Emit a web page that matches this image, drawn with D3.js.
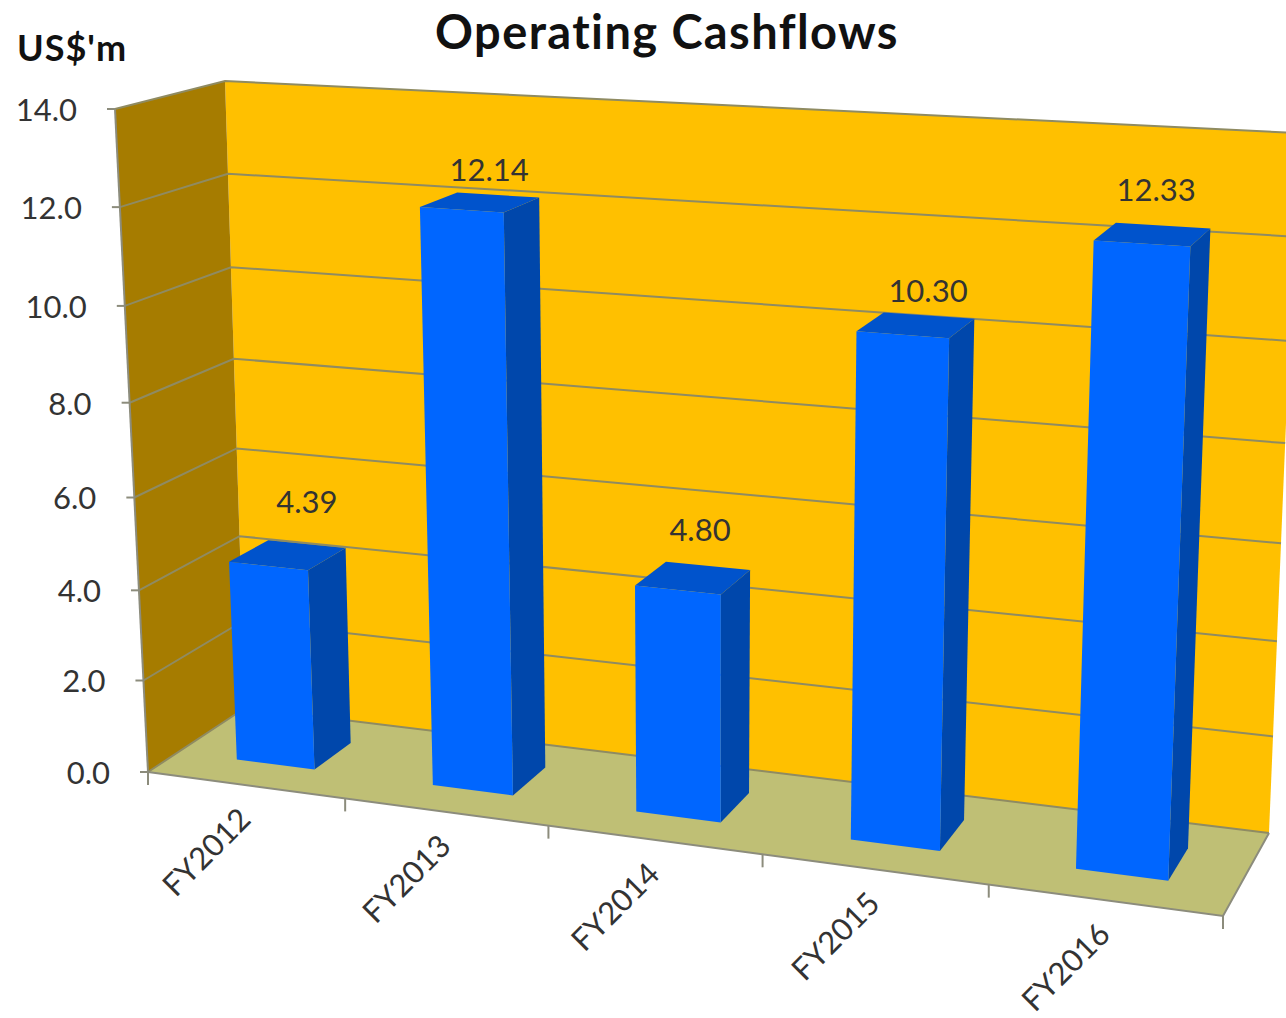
<!DOCTYPE html>
<html>
<head>
<meta charset="utf-8">
<title>Operating Cashflows</title>
<script src="https://cdn.jsdelivr.net/npm/d3@7/dist/d3.min.js"></script>
<style>
  html, body { margin: 0; padding: 0; background: #fff; overflow: hidden; }
  svg { display: block; }
  text { font-family: Lato, "Open Sans", sans-serif; fill: #333; font-variant-ligatures: none; }
</style>
</head>
<body>
<script>
// Chart values
const categories = ["FY2012", "FY2013", "FY2014", "FY2015", "FY2016"];
const cashflows = [4.39, 12.14, 4.80, 10.30, 12.33];
const valueTicks = [0, 2, 4, 6, 8, 10, 12, 14];

const width = 1286, height = 1018;

// Perspective box: screen corners of the plot volume, keyed front/back, left/right, bottom/top
const box = {
  flb: [148, 772], frb: [1223, 916], blb: [245, 708], brb: [1269, 833],
  flt: [115, 109], frt: [1252, 174], blt: [225, 81],  brt: [1298, 133]
};

// Foreshortening along the category and value axes
const catScale = d3.scaleLinear().domain([0, 1, 2, 3, 4, 5])
  .range([0, 0.1834, 0.3725, 0.5717, 0.7821, 1]);
const valScale = d3.scaleLinear().domain(valueTicks)
  .range([0, 0.138, 0.274, 0.414, 0.557, 0.703, 0.852, 1]);

// Maps (category position, value, depth 0..1) onto the screen
function project(c, v, d) {
  const u = catScale(c), g = valScale(v);
  const corner = i => {
    const bottom = d3.interpolateNumber(
      d3.interpolateNumber(box.flb[i], box.frb[i])(u),
      d3.interpolateNumber(box.blb[i], box.brb[i])(u))(d);
    const top = d3.interpolateNumber(
      d3.interpolateNumber(box.flt[i], box.frt[i])(u),
      d3.interpolateNumber(box.blt[i], box.brt[i])(u))(d);
    return d3.interpolateNumber(bottom, top)(g);
  };
  return [corner(0), corner(1)];
}

const svg = d3.select("body").append("svg").attr("width", width).attr("height", height);
const path = d3.line();
const poly = (pts, fill) => svg.append("path").attr("d", path(pts) + "Z").attr("fill", fill);
const stroke = (pts, color, w) => svg.append("path").attr("d", path(pts))
  .attr("fill", "none").attr("stroke", color).attr("stroke-width", w);

const maxV = 14, maxC = categories.length;
const wallColor = "#FFC000", sideColor = "#A67C00", floorColor = "#BFBF75";
const gridColor = "#8F8B62", axisColor = "#8C8C7C";

// Walls and floor
poly([project(0, 0, 1), project(maxC, 0, 1), project(maxC, maxV, 1), project(0, maxV, 1)], wallColor);
poly([project(0, 0, 0), project(0, 0, 1), project(0, maxV, 1), project(0, maxV, 0)], sideColor);
poly([project(0, 0, 0), project(maxC, 0, 0), project(maxC, 0, 1), project(0, 0, 1)], floorColor);

// Gridlines across the side wall and the back wall
valueTicks.forEach(v => {
  stroke([project(0, v, 0), project(0, v, 1), project(maxC, v, 1)], gridColor, 2);
});

// Box outlines
stroke([project(0, 0, 0), project(0, maxV, 0)], axisColor, 2);
stroke([project(0, 0, 0), project(maxC, 0, 0), project(maxC, 0, 1)], axisColor, 2);

// Value axis ticks and labels
const fmt = d3.format(".1f");
valueTicks.forEach(v => {
  const [x, y] = project(0, v, 0);
  stroke([[x - 8, y], [x, y]], axisColor, 2);
  svg.append("text").attr("x", x - 38).attr("y", y + 4)
    .attr("text-anchor", "end").attr("dominant-baseline", "middle")
    .attr("font-size", 31).text(fmt(v));
});

// Category ticks
d3.range(maxC + 1).forEach(c => {
  const [x, y] = project(c, 0, 0);
  stroke([[x, y], [x, y + 13]], axisColor, 2);
});

// Category labels, rotated along the diagonal
categories.forEach((name, i) => {
  const [x, y] = project(i + 0.5, 0, 0);
  svg.append("text")
    .attr("transform", `translate(${x + 6},${y + 36}) rotate(-45)`)
    .attr("text-anchor", "end")
    .attr("font-size", 31).text(name);
});

// Bars: front, right side and top faces
const barHalf = 0.2, depthFront = 0.315, depthBack = 0.715;
const labelNudgeX = [0, -9, -8, -1, -7];
const labelNudgeY = [-39, -22, -33, -21, -32];
cashflows.forEach((v, i) => {
  const c0 = i + 0.5 - barHalf, c1 = i + 0.5 + barHalf;
  poly([project(c1, 0, depthFront), project(c1, 0, depthBack), project(c1, v, depthBack), project(c1, v, depthFront)], "#0047AB");
  poly([project(c0, v, depthFront), project(c1, v, depthFront), project(c1, v, depthBack), project(c0, v, depthBack)], "#0053CC");
  poly([project(c0, 0, depthFront), project(c1, 0, depthFront), project(c1, v, depthFront), project(c0, v, depthFront)], "#0066FF");

  const [lx, ly] = project(i + 0.5, v, depthBack);
  svg.append("text").attr("x", lx + labelNudgeX[i]).attr("y", ly + labelNudgeY[i])
    .attr("text-anchor", "middle").attr("dominant-baseline", "middle")
    .attr("font-size", 31).text(v.toFixed(2));
});

// Title and unit
svg.append("text").attr("x", 667).attr("y", 49).attr("text-anchor", "middle")
  .attr("font-size", 47).attr("font-weight", 700).attr("letter-spacing", 1.4)
  .style("fill", "#111").text("Operating Cashflows");
svg.append("text").attr("x", 17).attr("y", 61)
  .attr("font-size", 36).attr("font-weight", 700).attr("letter-spacing", 1)
  .style("fill", "#111").text("US$'m");
</script>
</body>
</html>
